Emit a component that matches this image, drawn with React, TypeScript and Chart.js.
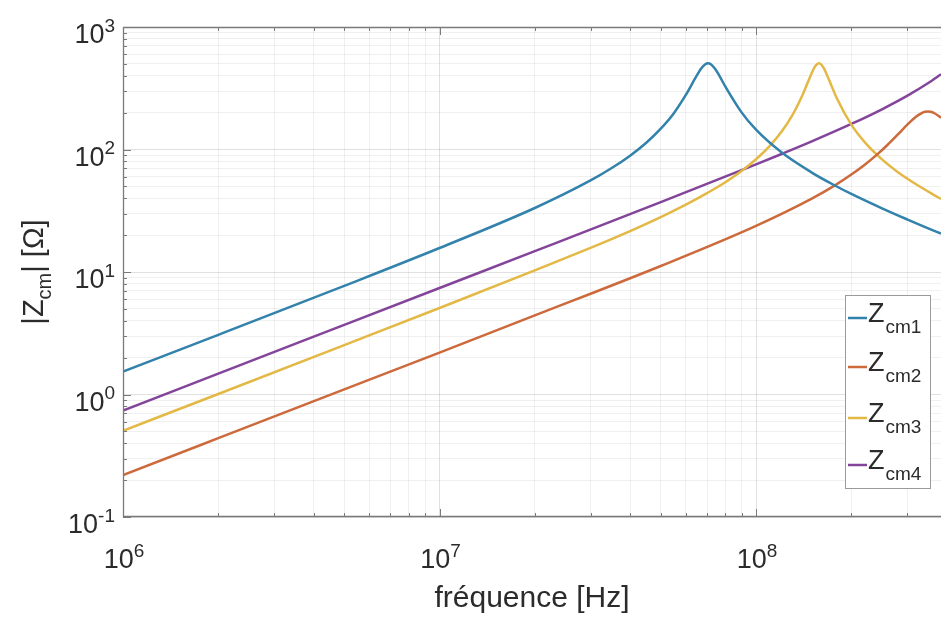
import React, { useEffect, useRef } from "react";
import { Chart, registerables } from "chart.js";

Chart.register(...registerables);

// ---------- data (frequencies in MHz, |Z| in ohms) ----------
const freqCm1MHz = [1, 2, 5, 10, 20, 30, 35, 40, 45, 50, 55, 60, 65, 67, 69, 70.5, 72, 74, 76, 80, 90, 100, 120, 150, 178, 200, 250, 300, 350, 384];
const zcm1 = [1.54, 3.07, 7.71, 15.7, 33.3, 55.9, 70.6, 89.1, 113.6, 148, 198, 279, 402, 456, 495, 506, 496, 460, 414, 326, 201, 145, 95.3, 64.8, 50.6, 43.4, 33.1, 26.9, 22.7, 20.6];

const freqCm2MHz = [1, 2, 5, 10, 20, 50, 100, 150, 178, 200, 220, 243, 260, 280, 300, 320, 335, 342, 349, 356, 365, 384];
const zcm2 = [0.22, 0.44, 1.1, 2.2, 4.42, 11.2, 23.8, 39.7, 51.2, 62.4, 74.7, 92.5, 108.8, 132, 158.8, 185.3, 199.4, 203, 204, 203, 198.6, 182];

const freqCm3MHz = [1, 2, 5, 10, 20, 30, 40, 50, 60, 70, 80, 90, 100, 110, 120, 130, 140, 146, 152, 155, 158, 161, 164, 170, 180, 200, 220, 250, 280, 300, 330, 360, 384];
const zcm3 = [0.506, 1.01, 2.53, 5.08, 10.3, 15.75, 21.6, 28.1, 35.5, 44.1, 54.1, 66.8, 83.3, 105.6, 138, 189, 276, 357, 454, 491, 506, 492, 457, 371, 262, 159.4, 115.4, 83, 65.6, 58, 49.6, 43.4, 39.5];

const freqCm4MHz = [1, 2, 5, 10, 20, 50, 100, 122, 150, 200, 250, 300, 350, 384];
const zcm4 = [0.74, 1.48, 3.7, 7.4, 14.8, 37.2, 75.6, 93.2, 116.5, 161.6, 213, 273.7, 348.7, 411.7];

const seriesSubscripts = ["cm1", "cm2", "cm3", "cm4"];
const seriesColors = ["#3282ac", "#cc6a3c", "#e3b845", "#83449a"];

const xTickExponents = [6, 7, 8];
const yTickExponents = [-1, 0, 1, 2, 3];
const xTitle = "fréquence [Hz]";
const yTitleParts = ["|Z", "cm", "| [Ω]"];

// ---------- layout / style ----------
const W = 941;
const H = 619;
const X_MIN = 1e6;
const X_MAX = 3.84e8;
const Y_MIN = 0.1;
const Y_MAX = 1000;
const FONT = '"Liberation Sans", Arial, Helvetica, sans-serif';
const TEXT_COLOR = "#2b2b2b";
const AXIS_COLOR = "#7a7a7a";

function isDecade(v: number) {
  const l = Math.log10(v);
  return Math.abs(l - Math.round(l)) < 1e-9;
}

function logTicks(min: number, max: number) {
  const out: number[] = [];
  const e0 = Math.floor(Math.log10(min));
  const e1 = Math.ceil(Math.log10(max));
  for (let e = e0; e <= e1; e++) {
    for (let m = 1; m < 10; m++) {
      const v = m * Math.pow(10, e);
      if (v >= min * 0.9999 && v <= max * 1.0001) out.push(v);
    }
  }
  return out;
}

function drawPow(ctx: CanvasRenderingContext2D, exp: string, x: number, y: number, align: string, size: number) {
  const main = `${size}px ${FONT}`;
  const sup = `${Math.round(size * 0.7)}px ${FONT}`;
  ctx.font = main;
  const wb = ctx.measureText("10").width;
  ctx.font = sup;
  const we = ctx.measureText(exp).width;
  const total = wb + we;
  const x0 = align === "right" ? x - total : align === "center" ? x - total / 2 : x;
  ctx.textAlign = "left";
  ctx.textBaseline = "alphabetic";
  ctx.font = main;
  ctx.fillText("10", x0, y);
  ctx.font = sup;
  ctx.fillText(exp, x0 + wb, y - size * 0.42);
}

const decorPlugin = {
  id: "decor",
  afterDatasetsDraw(chart: any) {
    const ctx: CanvasRenderingContext2D = chart.ctx;
    const xs = chart.scales.x;
    const ys = chart.scales.y;
    const { left, right, top, bottom } = chart.chartArea;
    ctx.save();

    // axis lines (left, bottom, top)
    ctx.strokeStyle = AXIS_COLOR;
    ctx.lineWidth = 1.3;
    ctx.beginPath();
    ctx.moveTo(right, top + 0.5);
    ctx.lineTo(left + 0.5, top + 0.5);
    ctx.lineTo(left + 0.5, bottom - 0.5);
    ctx.lineTo(right, bottom - 0.5);
    ctx.stroke();

    // tick marks
    ctx.lineWidth = 1;
    ctx.beginPath();
    for (const v of logTicks(X_MIN, X_MAX)) {
      const px = Math.round(xs.getPixelForValue(v)) + 0.5;
      const len = isDecade(v) ? 8 : 4;
      ctx.moveTo(px, bottom);
      ctx.lineTo(px, bottom - len);
      ctx.moveTo(px, top);
      ctx.lineTo(px, top + len);
    }
    for (const v of logTicks(Y_MIN, Y_MAX)) {
      const py = Math.round(ys.getPixelForValue(v)) + 0.5;
      const len = isDecade(v) ? 8 : 4;
      ctx.moveTo(left, py);
      ctx.lineTo(left + len, py);
    }
    ctx.stroke();

    // tick labels
    ctx.fillStyle = TEXT_COLOR;
    for (const e of yTickExponents) {
      drawPow(ctx, String(e), left - 8, ys.getPixelForValue(Math.pow(10, e)) + 16, "right", 27);
    }
    for (const e of xTickExponents) {
      drawPow(ctx, String(e), xs.getPixelForValue(Math.pow(10, e)) + 1, bottom + 51, "center", 27);
    }

    // x title
    ctx.font = `30px ${FONT}`;
    ctx.textAlign = "center";
    ctx.textBaseline = "alphabetic";
    ctx.fillText(xTitle, 532, 607);

    // y title (rotated, with subscript)
    ctx.save();
    ctx.translate(43, (top + bottom) / 2);
    ctx.rotate(-Math.PI / 2);
    const mainF = `29px ${FONT}`;
    const subF = `20px ${FONT}`;
    ctx.font = mainF;
    const w0 = ctx.measureText(yTitleParts[0]).width;
    const w2 = ctx.measureText(yTitleParts[2]).width;
    ctx.font = subF;
    const w1 = ctx.measureText(yTitleParts[1]).width;
    let cx = -(w0 + w1 + w2) / 2;
    ctx.textAlign = "left";
    ctx.font = mainF;
    ctx.fillText(yTitleParts[0], cx, 0);
    cx += w0;
    ctx.font = subF;
    ctx.fillText(yTitleParts[1], cx, 8);
    cx += w1;
    ctx.font = mainF;
    ctx.fillText(yTitleParts[2], cx, 0);
    ctx.restore();

    // legend
    const lx = 845, ly = 295, lw = 85, lh = 193;
    ctx.fillStyle = "#ffffff";
    ctx.fillRect(lx, ly, lw, lh);
    ctx.strokeStyle = "#9a9a9a";
    ctx.lineWidth = 1;
    ctx.strokeRect(lx + 0.5, ly + 0.5, lw, lh);
    const rowBase = [322, 371, 422, 469];
    seriesSubscripts.forEach((s, i) => {
      const by = rowBase[i];
      ctx.strokeStyle = seriesColors[i];
      ctx.lineWidth = 2.5;
      ctx.beginPath();
      ctx.moveTo(848, by - 4);
      ctx.lineTo(867, by - 4);
      ctx.stroke();
      ctx.fillStyle = TEXT_COLOR;
      ctx.textAlign = "left";
      ctx.font = `27px ${FONT}`;
      ctx.fillText("Z", 868, by);
      const wz = ctx.measureText("Z").width;
      ctx.font = `19px ${FONT}`;
      ctx.fillText(s, 868 + wz + 1, by + 11);
    });

    ctx.restore();
  },
};

function buildPoints(freqMHz: number[], vals: number[]) {
  return freqMHz.map((f, i) => ({ x: f * 1e6, y: vals[i] }));
}

export default function App() {
  const ref = useRef<HTMLCanvasElement | null>(null);

  useEffect(() => {
    const canvas = ref.current;
    if (!canvas) return;
    const seriesData = [
      buildPoints(freqCm1MHz, zcm1),
      buildPoints(freqCm2MHz, zcm2),
      buildPoints(freqCm3MHz, zcm3),
      buildPoints(freqCm4MHz, zcm4),
    ];
    const gridColor = (c: any) =>
      c.tick && isDecade(c.tick.value) ? "rgba(0,0,0,0.12)" : "rgba(0,0,0,0.06)";

    const chart = new Chart(canvas, {
      type: "line",
      data: {
        datasets: seriesData.map((d, i) => ({
          label: "Z" + seriesSubscripts[i],
          data: d,
          borderColor: seriesColors[i],
          backgroundColor: seriesColors[i],
          borderWidth: 2.5,
          pointRadius: 0,
          fill: false,
          cubicInterpolationMode: "monotone" as const,
        })),
      },
      options: {
        animation: false,
        responsive: false,
        devicePixelRatio: 1,
        layout: { padding: { top: 27, right: 0, left: 0, bottom: 0 } },
        plugins: { legend: { display: false }, tooltip: { enabled: false } },
        scales: {
          x: {
            type: "logarithmic",
            min: X_MIN,
            max: X_MAX,
            afterBuildTicks: (s: any) => {
              s.ticks = logTicks(X_MIN, X_MAX).map((v) => ({ value: v }));
            },
            afterFit: (s: any) => {
              s.height = H - 517;
            },
            ticks: { display: false },
            grid: { color: gridColor, lineWidth: 1, drawTicks: false },
            border: { display: false },
          },
          y: {
            type: "logarithmic",
            min: Y_MIN,
            max: Y_MAX,
            afterBuildTicks: (s: any) => {
              s.ticks = logTicks(Y_MIN, Y_MAX).map((v) => ({ value: v }));
            },
            afterFit: (s: any) => {
              s.width = 123;
            },
            ticks: { display: false },
            grid: { color: gridColor, lineWidth: 1, drawTicks: false },
            border: { display: false },
          },
        },
      },
      plugins: [decorPlugin],
    });
    return () => chart.destroy();
  }, []);

  return (
    <div style={{ position: "absolute", left: 0, top: 0, width: W, height: H, background: "#fff" }}>
      <canvas ref={ref} width={W} height={H} style={{ display: "block", width: W, height: H }} />
    </div>
  );
}
